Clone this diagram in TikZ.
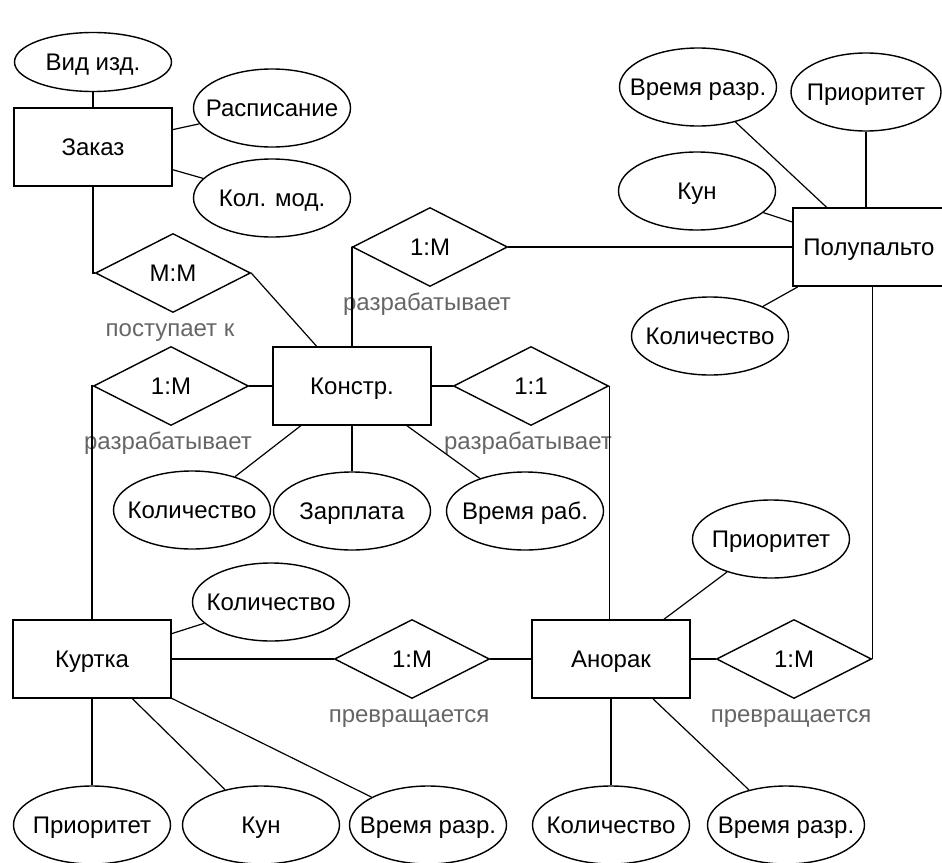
\documentclass[tikz,border=0pt]{standalone}
\usepackage{fontspec}
\setmainfont{Liberation Sans}
\usetikzlibrary{shapes.geometric}

\tikzset{
  entity/.style={draw, rectangle, minimum width=79pt, minimum height=39pt,
    inner sep=0pt, line width=0.8pt},
  attr/.style={draw, ellipse, minimum width=78.5pt, minimum height=39pt,
    inner sep=0pt, line width=0.7pt,
    execute at begin node={\hbox to 0pt\bgroup\hss},
    execute at end node={\hss\egroup}},
  rel/.style={draw, diamond, minimum width=77.5pt, minimum height=39.5pt,
    inner sep=0pt, line width=0.7pt},
  relname/.style={text=black!60, below of=#1, xshift=-1.5pt},
  vh/.style={to path={|- (\tikztotarget)}}
}

\begin{document}
\begin{tikzpicture}[x=0.5pt,y=-0.5pt,node distance=27.5pt,
    every node/.style={font=\fontsize{12}{14}\selectfont,
      text height=8.6pt, text depth=0pt}]

      \useasboundingbox (0,0) rectangle (942,862);

      \node (zakaz) [entity] at (93,147) {Заказ};
      \node (vid) [attr,minimum height=29.5pt] at (93,62) {Вид изд.};
      \node (raspis) [attr] at (272,108) {Расписание};
      \node (kolmod) [attr] at (272,198) {Кол. мод.};
      \node (mm) [rel] at (173,273) {M:M};
      \node (mmname) [relname=mm] {поступает к};

      \node (konstr) [entity] at (352,386) {Констр.};
      \node (razr1) [rel] at (430,247) {1:M};
      \node (razr1name) [relname=razr1] {разрабатывает};
      \node (razr2) [rel] at (171,386) {1:M};
      \node (razr2name) [relname=razr2] {разрабатывает};
      \node (razr3) [rel] at (531,386) {1:1};
      \node (razr3name) [relname=razr3] {разрабатывает};
      \node (kolk) [attr] at (192,510) {Количество};
      \node (zarpl) [attr] at (352,511) {Зарплата};
      \node (vrrab) [attr] at (525,511) {Время раб.};

      \node (polu) [entity,minimum width=76pt] at (869,247) {Полупальто};
      \node (vrp) [attr] at (698,87) {Время разр.};
      \node (prp) [attr,minimum width=75pt] at (866,92) {Приоритет};
      \node (kunp) [attr] at (697,191) {Кун};
      \node (kolp) [attr] at (710,336) {Количество};

      \node (kurtka) [entity] at (92,659) {Куртка};
      \node (kolc) [attr] at (271,602) {Количество};
      \node (prc) [attr] at (92,825) {Приоритет};
      \node (kunc) [attr] at (261,825) {Кун};
      \node (vrc) [attr] at (428,825) {Время разр.};
      \node (prev1) [rel] at (412,659) {1:M};
      \node (prev1name) [relname=prev1] {превращается};

      \node (anorak) [entity] at (611,659) {Анорак};
      \node (pra) [attr] at (771,539) {Приоритет};
      \node (kola) [attr] at (611,825) {Количество};
      \node (vra) [attr] at (786,825) {Время разр.};
      \node (prev2) [rel] at (794,659) {1:M};
      \node (prev2name) [relname=prev2] {превращается};

      \path[line width=0.6pt]
        (zakaz) edge (vid)
            edge (raspis)
            edge (kolmod)
            edge [vh] (mm.west)
        (mm.east) edge (konstr)
        (konstr) edge [vh] (razr1.west)
            edge (razr2)
            edge (razr3)
            edge (kolk)
            edge (zarpl)
            edge (vrrab)
        (razr1) edge (polu)
        (polu) edge (vrp)
            edge (kunp)
            edge (kolp)
        (prp) edge (prp |- polu.north)
        (razr3.east) edge (razr3.east |- anorak.north)
        (kurtka) edge [vh] (razr2.west)
            edge (kolc)
            edge (prev1)
            edge (prc)
            edge (kunc)
            edge (vrc)
        (prev1) edge (anorak)
        (anorak) edge (pra)
            edge (prev2)
            edge (kola)
            edge (vra)
        (prev2.east) edge (prev2.east |- polu.south);
    \end{tikzpicture}
\end{document}
